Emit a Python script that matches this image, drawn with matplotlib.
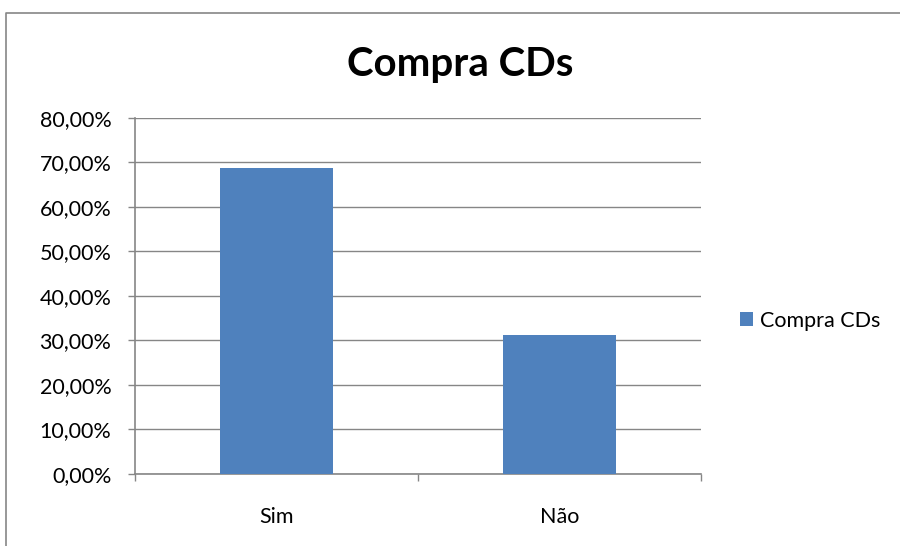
import matplotlib.pyplot as plt
from matplotlib.lines import Line2D
from matplotlib.ticker import FuncFormatter

# Survey answers: does the respondent buy CDs?
categories = ["Sim", "Não"]
shares = [68.75, 31.25]
series_name = "Compra CDs"
y_ticks = [0, 10, 20, 30, 40, 50, 60, 70, 80]

plt.rcParams['font.family'] = ['Lato', 'DejaVu Sans']

fig = plt.figure(figsize=(9, 5.46), dpi=100)
ax = fig.add_axes([0.15, 0.1319, 0.6289, 0.652])

# Chart frame: only the left and top edges fall inside the figure
fx = 5.5 / 900
fy = 1 - 12.5 / 546
fig.lines.append(Line2D([fx, fx, 1.1], [-0.1, fy, fy], transform=fig.transFigure,
                        color="#868686", linewidth=1.2, solid_capstyle="butt"))

ax.bar(categories, shares, width=0.4, color="#4F81BD", label=series_name, zorder=3)

ax.set_xlim(-0.5, 1.5)
ax.set_ylim(0, 80)
ax.set_yticks(y_ticks)
ax.yaxis.set_major_formatter(FuncFormatter(lambda v, p: f"{v:.2f}%".replace(".", ",")))
ax.grid(axis="y", color="#868686", linewidth=1, zorder=0)

# Category ticks sit on the boundaries between groups
ax.set_xticks([-0.5, 0.5, 1.5], minor=False)
ax.set_xticklabels([])
ax.set_xticks([0, 1], minor=True)
ax.set_xticklabels(categories, minor=True)
ax.tick_params(axis="x", which="minor", length=0, pad=24, labelsize=15.5)
ax.tick_params(axis="x", which="major", length=5, width=1, color="#868686", direction="out")
ax.tick_params(axis="y", length=5, width=1, color="#868686", labelsize=15.5, pad=12)

for side in ["top", "right"]:
    ax.spines[side].set_visible(False)
for side in ["left", "bottom"]:
    ax.spines[side].set_color("#868686")
    ax.spines[side].set_linewidth(1.2)

fig.text(0.511, 0.882, "Compra CDs", ha="center", va="center",
         fontsize=29, fontweight="bold")

ax.legend(loc="center left", bbox_to_anchor=(1.034, 0.43), frameon=False,
          fontsize=15.5, handlelength=0.6, handleheight=0.6, handletextpad=0.35)

fig.savefig("out.png", dpi=100)
